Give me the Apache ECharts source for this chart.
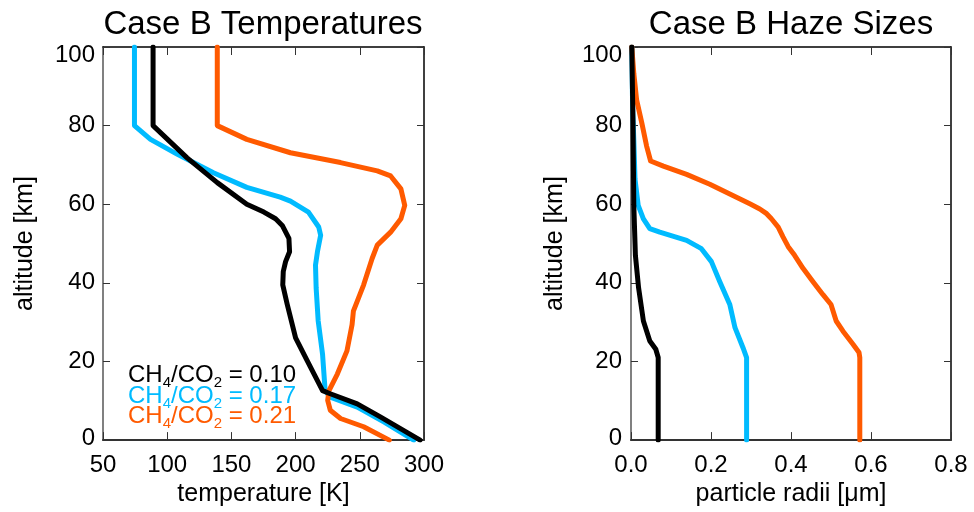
<!DOCTYPE html>
<html>
<head>
<meta charset="utf-8">
<script src="https://cdn.jsdelivr.net/npm/echarts@6/dist/echarts.min.js"></script>
<style>html,body{margin:0;padding:0;background:#fff;}#c{width:974px;height:512px;}</style>
</head>
<body>
<div id="c"></div>
<script>
// ---- Data ----
const tempTicksX = [50, 100, 150, 200, 250, 300];
const radiusTicksX = [0.0, 0.2, 0.4, 0.6, 0.8];
const altTicks = [0, 20, 40, 60, 80, 100];

// Temperatures (K) vs altitude (km)
const tBlackAlt = [100, 80, 71.8, 65.5, 60, 58.0, 56.3, 54.6, 51.3, 47.9, 45.4, 42.9, 39.5, 34.5, 26, 20.2, 12.6, 11.8, 9.2, 5.9, 0];
const tBlackVal = [89, 89, 115.5, 139, 162, 175.3, 184.4, 189.6, 194.8, 195.3, 192.2, 190.4, 190, 193.5, 200, 209, 221, 227, 248, 266, 297];

const tBlueAlt = [100, 80, 76.5, 72.7, 68, 64.3, 61.8, 60.8, 58, 54.2, 52.1, 47.9, 44.5, 38.7, 30.3, 21.8, 12.6, 10.9, 8.4, 4.6, 0];
const tBlueVal = [74.5, 74.5, 87, 108, 136, 162, 188, 196, 210, 218, 219.5, 217, 215.5, 216, 217.6, 221, 223, 227, 248, 269, 292];

const tOrangeAlt = [100, 80, 76.5, 73.1, 70.6, 68.5, 67.2, 63.9, 59.7, 56.3, 52.9, 49.6, 46.2, 39.5, 32.8, 29.4, 22.7, 16.8, 12.6, 10.1, 7.6, 5.5, 3.4, 0];
const tOrangeVal = [139, 139, 162, 196, 235, 263.6, 274, 282, 285, 282, 274, 263.6, 259.6, 253, 245, 244, 240, 232.5, 226, 225, 227, 235, 253, 273];

// Haze particle radii (um) vs altitude (km)
const rBlackAlt = [100, 80.7, 59.7, 47, 38.7, 30.3, 25.2, 23.1, 21, 0];
const rBlackVal = [0.002, 0.005, 0.007, 0.011, 0.019, 0.031, 0.047, 0.062, 0.068, 0.068];

const rBlueAlt = [100, 85, 76.5, 66.4, 59.7, 56.3, 53.8, 52.9, 50.8, 48.7, 45.4, 40.3, 34.5, 28.6, 23.5, 21, 0];
const rBlueVal = [0.002, 0.004, 0.007, 0.01, 0.018, 0.031, 0.047, 0.072, 0.139, 0.176, 0.201, 0.222, 0.247, 0.26, 0.28, 0.289, 0.289];

const rOrangeAlt = [100, 93.3, 86.6, 80.7, 74.8, 71, 69.7, 67.6, 65.1, 62.6, 60.1, 58.8, 57.6, 56.3, 54.2, 51.7, 49.2, 47, 43.7, 40.3, 37, 34.5, 30.3, 27.7, 24.4, 22.3, 21, 0];
const rOrangeVal = [0.002, 0.007, 0.014, 0.027, 0.039, 0.049, 0.081, 0.139, 0.197, 0.247, 0.297, 0.322, 0.339, 0.351, 0.368, 0.38, 0.393, 0.409, 0.43, 0.455, 0.48, 0.5, 0.513, 0.53, 0.555, 0.57, 0.572, 0.572];

const legendRatios = ['0.10', '0.17', '0.21'];
const titles = ['Case B Temperatures', 'Case B Haze Sizes'];

// ---- Styles ----
const FONT = 'Liberation Sans, Arial, Helvetica, sans-serif';
const C_BLACK = '#000000', C_BLUE = '#00bbff', C_ORANGE = '#ff5a00';
const zip = (xs, ys) => xs.map((x, i) => [x, ys[i]]);

const yLabelFmt = v => v === 0 ? '{lo|0}' : v === 100 ? '{hi|100}' : String(v);
const yLabelRich = {
  lo: {fontSize: 24, fontFamily: FONT, color: '#000', padding: [0, 0, 3, 0]},
  hi: {fontSize: 24, fontFamily: FONT, color: '#000', padding: [17, 0, 0, 0]}
};

function xBottom(grid, min, max, interval, name, fmt, gap) {
  return {
    type: 'value', gridIndex: grid, position: 'bottom', min, max, interval,
    name, nameLocation: 'middle', nameGap: gap,
    nameTextStyle: {fontSize: 25, fontFamily: FONT, color: '#000'},
    axisLine: {show: true, onZero: false, lineStyle: {color: '#333', width: 2}},
    axisTick: {show: true, inside: true, length: 8, lineStyle: {color: '#333', width: 1}},
    axisLabel: {show: true, margin: 13, fontSize: 24, fontFamily: FONT, color: '#000', formatter: fmt},
    splitLine: {show: false}
  };
}
function xTop(grid, min, max, interval) {
  return {
    type: 'value', gridIndex: grid, position: 'top', min, max, interval,
    axisLine: {show: true, onZero: false, lineStyle: {color: '#000', width: 1.5}},
    axisTick: {show: true, inside: true, length: 8, lineStyle: {color: '#333', width: 1}},
    axisLabel: {show: false}, splitLine: {show: false}
  };
}
function yLeft(grid, gap, margin) {
  return {
    type: 'value', gridIndex: grid, position: 'left', min: 0, max: 100, interval: 20,
    name: 'altitude [km]', nameLocation: 'middle', nameGap: gap, nameRotate: 90,
    nameTextStyle: {fontSize: 25, fontFamily: FONT, color: '#000'},
    axisLine: {show: true, onZero: false, lineStyle: {color: '#808080', width: 2}},
    axisTick: {show: true, inside: true, length: 7, lineStyle: {color: '#333', width: 1}},
    axisLabel: {show: true, margin: margin, fontSize: 24, fontFamily: FONT, color: '#000', formatter: yLabelFmt, rich: yLabelRich},
    splitLine: {show: false}
  };
}
function yRight(grid) {
  return {
    type: 'value', gridIndex: grid, position: 'right', min: 0, max: 100, interval: 20,
    axisLine: {show: true, onZero: false, lineStyle: {color: '#000', width: 1.5}},
    axisTick: {show: true, inside: true, length: 7, lineStyle: {color: '#333', width: 1}},
    axisLabel: {show: false}, splitLine: {show: false}
  };
}
function line(xi, yi, data, color, z) {
  return {
    type: 'line', xAxisIndex: xi, yAxisIndex: yi, data, symbol: 'none', smooth: false,
    lineStyle: {color, width: 5, cap: 'round', join: 'round'}, z, animation: false
  };
}
function legendTitle(text, color, top) {
  return {
    text, left: 128, top, padding: 0,
    textStyle: {
      fontWeight: 'normal',
      rich: {
        m: {fontSize: 24, fontWeight: 'normal', fontFamily: FONT, color, lineHeight: 24, verticalAlign: 'top'},
        s: {fontSize: 15, fontWeight: 'normal', fontFamily: FONT, color, lineHeight: 15, verticalAlign: 'top', padding: [12, 0, 0, 0]}
      }
    }
  };
}
const legendColors = [C_BLACK, C_BLUE, C_ORANGE];
const legendTops = [363, 384, 404];

const chart = echarts.init(document.getElementById('c'), null, {renderer: 'canvas'});
chart.setOption({
  backgroundColor: '#fff',
  animation: false,
  title: [
    {text: titles[0], left: 263, top: 8, textAlign: 'center', padding: 0,
     textStyle: {fontSize: 33, fontWeight: 'normal', fontFamily: FONT, color: '#000'}},
    {text: titles[1], left: 791, top: 8, textAlign: 'center', padding: 0,
     textStyle: {fontSize: 33, fontWeight: 'normal', fontFamily: FONT, color: '#000'}}
  ].concat(legendRatios.map((r, i) =>
    legendTitle('{m|CH}{s|4}{m|/CO}{s|2}{m| = ' + r + '}', legendColors[i], legendTops[i]))),
  grid: [
    {left: 103, top: 47, width: 321, height: 396},
    {left: 631, top: 47, width: 320, height: 396}
  ],
  xAxis: [
    xBottom(0, 50, 300, 50, 'temperature [K]', v => String(v), 41),
    xTop(0, 50, 300, 50),
    xBottom(1, 0, 0.8, 0.2, 'particle radii [μm]', v => v.toFixed(1), 41),
    xTop(1, 0, 0.8, 0.2)
  ],
  yAxis: [
    yLeft(0, 65, 8),
    yRight(0),
    yLeft(1, 63, 9),
    yRight(1)
  ],
  series: [
    line(0, 0, zip(tBlueVal, tBlueAlt), C_BLUE, 2),
    line(0, 0, zip(tOrangeVal, tOrangeAlt), C_ORANGE, 3),
    line(0, 0, zip(tBlackVal, tBlackAlt), C_BLACK, 4),
    line(2, 2, zip(rBlueVal, rBlueAlt), C_BLUE, 2),
    line(2, 2, zip(rOrangeVal, rOrangeAlt), C_ORANGE, 3),
    line(2, 2, zip(rBlackVal, rBlackAlt), C_BLACK, 4)
  ]
});
</script>
</body>
</html>
